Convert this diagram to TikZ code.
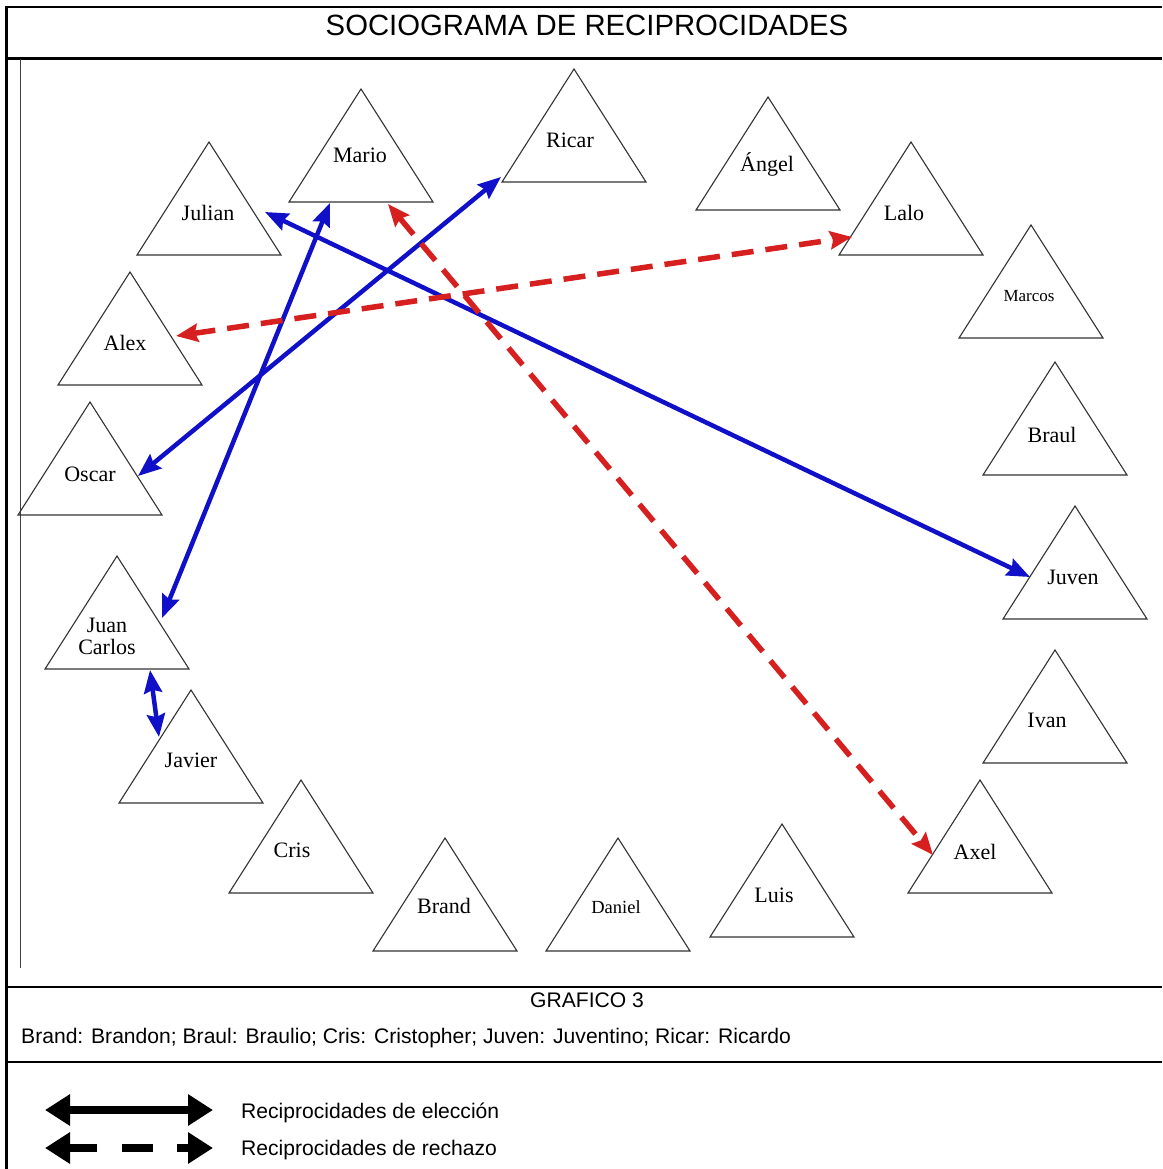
\documentclass[tikz,border=0pt]{standalone}
\usepackage{fontspec}
\setmainfont{Liberation Serif}
\newfontfamily\arialfam{Liberation Sans}
\usetikzlibrary{arrows.meta}
\definecolor{azuleleccion}{RGB}{16,16,200}
\definecolor{rojorechazo}{RGB}{214,32,32}
\tikzset{
  marco/.style={line width=2.6pt, black},
  guia/.style={line width=1.4pt, black!75},
  triangulo/.style={draw=black!80, line width=1.1pt, line join=miter},
  nombre/.style={font=\fontsize{22}{22}\selectfont, inner sep=0pt, anchor=base, align=center},
  chico/.style={font=\fontsize{17}{17}\selectfont},
  mediano/.style={font=\fontsize{18.5}{18.5}\selectfont},
  texto/.style={font=\arialfam\fontsize{21.1}{21.1}\selectfont, inner sep=0pt, anchor=base},
  eleccion/.style={draw=azuleleccion, line width=4.5pt,
    {Stealth[length=23pt,width=18pt,inset=3pt]}-{Stealth[length=23pt,width=18pt,inset=3pt]}},
  rechazo/.style={draw=rojorechazo, line width=5.5pt, dash pattern=on 22pt off 12pt,
    {Stealth[length=22pt,width=18pt,inset=3pt]}-{Stealth[length=22pt,width=18pt,inset=3pt]}},
  leyenda/.style={draw=black, line width=8pt},
  puntaley/.style={-{Triangle[length=25pt,width=30pt]}},
}
% one pupil: node name, apex x, apex y, label x, label y, label style, text
\newcommand\alumno[7]{%
  \draw[triangulo] (#2,#3) -- (#2-72,#3+113) -- (#2+72,#3+113) -- cycle;
  \node[nombre,#6] (#1) at (#4,#5+7) {#7};
}
\begin{document}
\begin{tikzpicture}[x=1pt,y=-1pt]
  \useasboundingbox (0,0) rectangle (1162,1169);
  \fill[white] (0,0) rectangle (1162,1169);

  % table frame
  \draw[marco] (6.5,7) -- (1162,7);
  \draw[marco] (6.5,5.7) -- (6.5,1169);
  \draw[marco] (6.5,58.5) -- (1162,58.5);
  \draw[marco] (6.5,987) -- (1162,987);
  \draw[marco] (6.5,1062) -- (1162,1062);
  \draw[guia] (20.5,59) -- (20.5,968);

  \node[texto, font=\arialfam\fontsize{29.3}{29.3}\selectfont] (titulo) at (587,35.5) {SOCIOGRAMA DE RECIPROCIDADES};

  % pupils
  \alumno{Julian}{209}{142}{208}{213}{}{Julian}
  \alumno{Mario}{361}{89}{360}{156}{}{Mario}
  \alumno{Ricar}{574}{69}{570}{141}{}{Ricar}
  \alumno{Angel}{768}{97}{767}{165}{}{Ángel}
  \alumno{Lalo}{911}{142}{904}{213}{}{Lalo}
  \alumno{Marcos}{1031}{225}{1029}{294}{chico}{Marcos}
  \alumno{Braul}{1055}{362}{1052}{435}{}{Braul}
  \alumno{Juven}{1075}{506}{1073}{577}{}{Juven}
  \alumno{Ivan}{1055}{650}{1047}{720}{}{Ivan}
  \alumno{Axel}{980}{780}{975}{852}{}{Axel}
  \alumno{Luis}{782}{824}{774}{895}{}{Luis}
  \alumno{Daniel}{618}{838}{616}{906}{mediano}{Daniel}
  \alumno{Brand}{445}{838}{444}{906}{}{Brand}
  \alumno{Cris}{301}{780}{292}{850}{}{Cris}
  \alumno{Javier}{191}{690}{191}{760}{}{Javier}
  \alumno{JuanCarlos}{117}{556}{107}{647}{}{Juan\\Carlos}
  \alumno{Oscar}{90}{402}{90}{474}{}{Oscar}
  \alumno{Alex}{130}{272}{125}{343}{}{Alex}

  % arrow ends on the triangles
  \coordinate (Julian-p) at (265,212);
  \coordinate (Juven-p) at (1030,577);
  \coordinate (Mario-p) at (330,203);
  \coordinate (JuanCarlos-p) at (162,618);
  \coordinate (Ricar-p) at (501,177);
  \coordinate (Oscar-p) at (138,476);
  \coordinate (JuanCarlos-q) at (150,670);
  \coordinate (Javier-p) at (159,737);
  \coordinate (Alex-p) at (176,336);
  \coordinate (Lalo-p) at (852,237);
  \coordinate (Mario-q) at (388,204);
  \coordinate (Axel-p) at (933,855);

  % mutual choices
  \draw[eleccion] (Julian-p) -- (Juven-p);
  \draw[eleccion] (Mario-p) -- (JuanCarlos-p);
  \draw[eleccion] (Ricar-p) -- (Oscar-p);
  \draw[eleccion] (JuanCarlos-q) -- (Javier-p);

  % mutual rejections
  \draw[rechazo] (Alex-p) -- (Lalo-p);
  \draw[rechazo] (Mario-q) -- (Axel-p);

  % caption rows
  \node[texto, anchor=base] (grafico) at (587,1007.5) {GRAFICO 3};
  \node[texto, anchor=base west] (abrev) at (21,1043.5) {Brand: Brandon; Braul: Braulio; Cris: Cristopher; Juven: Juventino; Ricar: Ricardo};

  % legend
  \coordinate (le1) at (45,1110);
  \coordinate (le2) at (213,1110);
  \draw[leyenda, {Triangle[length=25pt,width=30pt]}-{Triangle[length=25pt,width=30pt]}] (le1) -- (le2);
  \coordinate (lr1) at (45,1148);
  \coordinate (lr2) at (97,1148);
  \coordinate (lr3) at (122,1148);
  \coordinate (lr4) at (153,1148);
  \coordinate (lr5) at (177,1148);
  \coordinate (lr6) at (213,1148);
  \draw[leyenda, puntaley] (lr2) -- (lr1);
  \draw[leyenda] (lr3) -- (lr4);
  \draw[leyenda, puntaley] (lr5) -- (lr6);
  \node[texto, anchor=base west] (leyeleccion) at (241,1118.5) {Reciprocidades de elección};
  \node[texto, anchor=base west] (leyrechazo) at (241,1155.5) {Reciprocidades de rechazo};
\end{tikzpicture}
\end{document}
